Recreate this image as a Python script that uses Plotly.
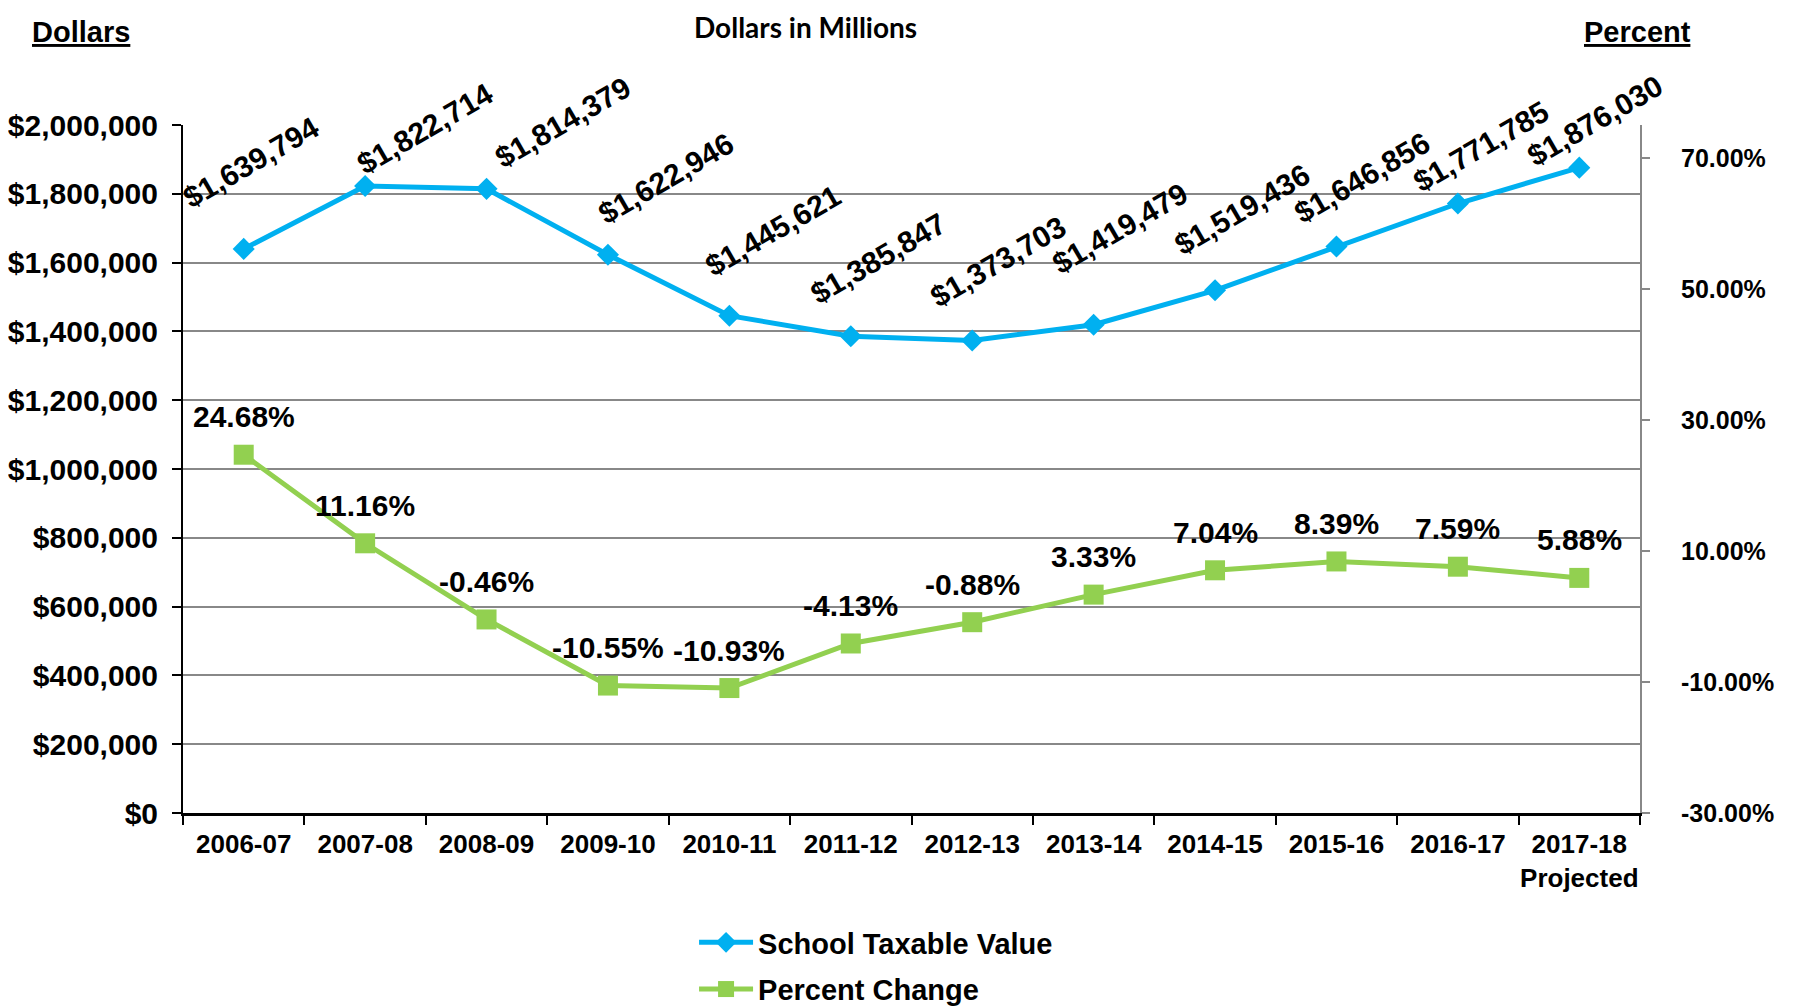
import plotly.graph_objects as go

categories = ["2006-07", "2007-08", "2008-09", "2009-10", "2010-11", "2011-12",
              "2012-13", "2013-14", "2014-15", "2015-16", "2016-17", "2017-18<br>Projected"]
taxable_value = [1639794, 1822714, 1814379, 1622946, 1445621, 1385847,
                 1373703, 1419479, 1519436, 1646856, 1771785, 1876030]
percent_change = [24.68, 11.16, -0.46, -10.55, -10.93, -4.13,
                  -0.88, 3.33, 7.04, 8.39, 7.59, 5.88]
dollar_ticks = list(range(0, 2000001, 200000))
percent_ticks = [-30, -10, 10, 30, 50, 70]

# label placement (pixel shifts)
blue_dx = [7, 60, 76, 58, 44, 27, 26, 26, 27, 26, 23, 16]
blue_dy = [86, 57, 66, 76, 85, 78, 79, 96, 81, 69, 57, 47]

BLUE = "#00B0F0"
GREEN = "#92D050"
FONT = "Liberation Sans, Arial, sans-serif"


def bold(size, family=FONT):
    return dict(family=family, size=size, color="black", weight="bold")


fig = go.Figure()
fig.add_trace(go.Scatter(
    x=categories, y=taxable_value, name="School Taxable Value",
    mode="lines+markers", line=dict(color=BLUE, width=5),
    marker=dict(symbol="diamond", size=17, color=BLUE),
    legendgroup="a"))
fig.add_trace(go.Scatter(
    x=categories, y=percent_change, name="Percent Change", yaxis="y2",
    mode="lines+markers", line=dict(color=GREEN, width=5),
    marker=dict(symbol="square", size=20, color=GREEN),
    legendgroup="b"))

annotations = []
for i, (c, v) in enumerate(zip(categories, taxable_value)):
    annotations.append(dict(
        x=c, y=v, xref="x", yref="y", text=f"${v:,}", showarrow=False,
        textangle=-30, xshift=blue_dx[i], yshift=blue_dy[i], font=bold(30)))
for c, p in zip(categories, percent_change):
    annotations.append(dict(
        x=c, y=p, xref="x", yref="y2", text=f"{p:.2f}%", showarrow=False,
        yshift=38, font=bold(30)))

annotations += [
    dict(text="Dollars in Millions", xref="paper", yref="paper", x=0.427, y=1.142,
         xanchor="center", yanchor="middle", showarrow=False,
         font=bold(28, "Lato, sans-serif")),
    dict(text="<u>Dollars</u>", xref="paper", yref="paper", x=-0.0697, y=1.135,
         xanchor="center", yanchor="middle", showarrow=False, font=bold(29)),
    dict(text="<u>Percent</u>", xref="paper", yref="paper", x=0.998, y=1.135,
         xanchor="center", yanchor="middle", showarrow=False, font=bold(29)),
]

# page has an 8px body margin, so the figure is 8px smaller than the window
fig.update_layout(
    width=1788, height=1000,
    margin=dict(l=175, r=156, t=117, b=195, autoexpand=False),
    paper_bgcolor="white", plot_bgcolor="white",
    font=bold(26),
    annotations=annotations,
    showlegend=True,
    legend=dict(x=0.3837, y=0.091, xref="container", yref="container",
                xanchor="left", yanchor="top",
                font=bold(29), tracegroupgap=6, itemwidth=54),
    xaxis=dict(type="category", tickson="boundaries", ticks="outside", ticklen=9,
               tickwidth=2, tickcolor="black", showline=True, linecolor="black",
               linewidth=2.5, showgrid=False, tickfont=bold(26), tickangle=0,
               range=[-0.5, 11.5], automargin=False, ticklabelstandoff=6),
    yaxis=dict(range=[0, 2000000], tickvals=dollar_ticks,
               ticktext=[f"${t:,}" for t in dollar_ticks],
               ticks="outside", ticklen=9, tickwidth=2, tickcolor="black",
               showline=True, linecolor="black", linewidth=2,
               showgrid=True, gridcolor="#888888", gridwidth=2,
               tickfont=bold(30), zeroline=False, automargin=False,
               ticklabelstandoff=8),
    yaxis2=dict(range=[-30, 75], overlaying="y", side="right",
                tickvals=percent_ticks,
                ticktext=[f"{t:.2f}%" for t in percent_ticks],
                ticks="outside", ticklen=8, tickwidth=2, tickcolor="#888888",
                showline=True, linecolor="#888888", linewidth=2,
                showgrid=False, zeroline=False, tickfont=bold(25),
                ticklabelstandoff=26, automargin=False),
)

fig.write_html("out.html")
